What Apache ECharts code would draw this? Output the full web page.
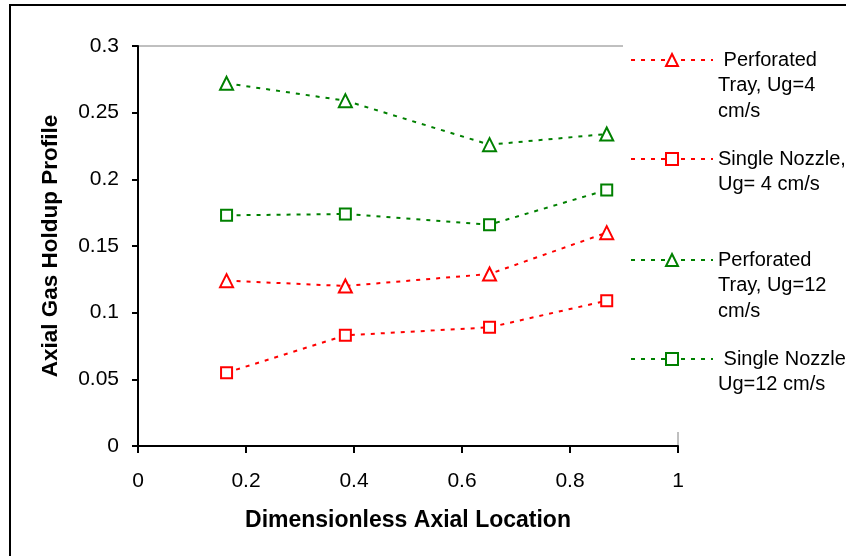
<!DOCTYPE html>
<html>
<head>
<meta charset="utf-8">
<script src="https://cdn.jsdelivr.net/npm/echarts@6/dist/echarts.min.js"></script>
<style>html,body{margin:0;padding:0;background:#fff}#c{width:846px;height:556px}</style>
</head>
<body>
<div id="c"></div>
<script>
// ---- data ----
const xLocation = [0.164, 0.384, 0.651, 0.868];
const perforatedUg4 = [0.124, 0.120, 0.129, 0.160];
const nozzleUg4 = [0.055, 0.083, 0.089, 0.109];
const perforatedUg12 = [0.272, 0.259, 0.226, 0.234];
const nozzleUg12 = [0.173, 0.174, 0.166, 0.192];
const seriesNames = [
  ' Perforated\nTray, Ug=4\ncm/s',
  'Single Nozzle,\nUg= 4 cm/s',
  'Perforated\nTray, Ug=12\ncm/s',
  ' Single Nozzle\nUg=12 cm/s'
];
const xTicks = [0, 0.2, 0.4, 0.6, 0.8, 1];
const yTicks = [0, 0.05, 0.1, 0.15, 0.2, 0.25, 0.3];
const xTitle = 'Dimensionless Axial Location';
const yTitle = 'Axial Gas Holdup Profile';

const FONT = "'Liberation Sans', Arial, sans-serif";
const RED = '#ff0000', GREEN = '#008000';
const dash = [4, 6];

function pts(vals) { return xLocation.map((x, i) => [x, vals[i]]); }

const seriesDefs = [
  { name: seriesNames[0], vals: perforatedUg4, color: RED, symbol: 'emptyTriangle', size: 13 },
  { name: seriesNames[1], vals: nozzleUg4, color: RED, symbol: 'emptyRect', size: 11 },
  { name: seriesNames[2], vals: perforatedUg12, color: GREEN, symbol: 'emptyTriangle', size: 13 },
  { name: seriesNames[3], vals: nozzleUg12, color: GREEN, symbol: 'emptyRect', size: 11 }
];

// legend icon centre rows (px)
const legendRows = [60, 159, 260, 359];
const LH = 25.5;
const legends = seriesDefs.map((s, i) => {
  const n = s.name.split('\n').length;
  return {
    data: [s.name],
    orient: 'vertical',
    left: 630,
    top: legendRows[i] - (2 * n - 1) * LH / 2,
    padding: 0,
    itemWidth: 82,
    itemHeight: 15,
    itemGap: 0,
    selectedMode: false,
    formatter: name => '\n'.repeat(n - 1) + name,
    textStyle: { fontFamily: FONT, fontSize: 20, color: '#000', lineHeight: LH }
  };
});

const chart = echarts.init(document.getElementById('c'), null, { renderer: 'canvas' });
chart.setOption({
  animation: false,
  backgroundColor: '#fff',
  grid: { left: 138, top: 46, right: 168, bottom: 110, show: true, borderColor: '#808080', borderWidth: 1, backgroundColor: 'transparent' },
  xAxis: {
    type: 'value', min: xTicks[0], max: xTicks[xTicks.length - 1], interval: 0.2,
    name: xTitle, nameLocation: 'middle', nameGap: 63,
    nameTextStyle: { fontFamily: FONT, fontSize: 23, fontWeight: 'bold', color: '#000' },
    axisLine: { show: true, onZero: false, lineStyle: { color: '#000', width: 2 } },
    axisTick: { show: true, inside: false, length: 7, lineStyle: { color: '#000', width: 2 } },
    axisLabel: { fontFamily: FONT, fontSize: 21, color: '#000', margin: 25 },
    splitLine: { show: false }
  },
  yAxis: {
    type: 'value', min: yTicks[0], max: yTicks[yTicks.length - 1], interval: 0.05,
    name: yTitle, nameLocation: 'middle', nameGap: 76,
    nameTextStyle: { fontFamily: FONT, fontSize: 22.5, fontWeight: 'bold', color: '#000' },
    axisLine: { show: true, onZero: false, lineStyle: { color: '#000', width: 2 } },
    axisTick: { show: true, inside: false, length: 6, lineStyle: { color: '#000', width: 2 } },
    axisLabel: { fontFamily: FONT, fontSize: 21, color: '#000', margin: 19,
      formatter: v => String(Math.round(v * 100) / 100) },
    splitLine: { show: false }
  },
  legend: legends,
  graphic: [
    { type: 'rect', z: 1, shape: { x: 623, y: 20, width: 240, height: 412 }, style: { fill: '#fff' } },
    { type: 'rect', z: 10, shape: { x: 10, y: 5, width: 900, height: 600 }, style: { fill: 'none', stroke: '#000', lineWidth: 2 } }
  ],
  series: seriesDefs.map(s => ({
    name: s.name,
    type: 'line',
    data: pts(s.vals),
    symbol: s.symbol,
    symbolSize: s.size,
    showSymbol: true,
    color: s.color,
    lineStyle: { color: s.color, width: 2, type: dash },
    itemStyle: { color: s.color, borderColor: s.color, borderWidth: 2 },
    emphasis: { disabled: true }
  }))
});
</script>
</body>
</html>
